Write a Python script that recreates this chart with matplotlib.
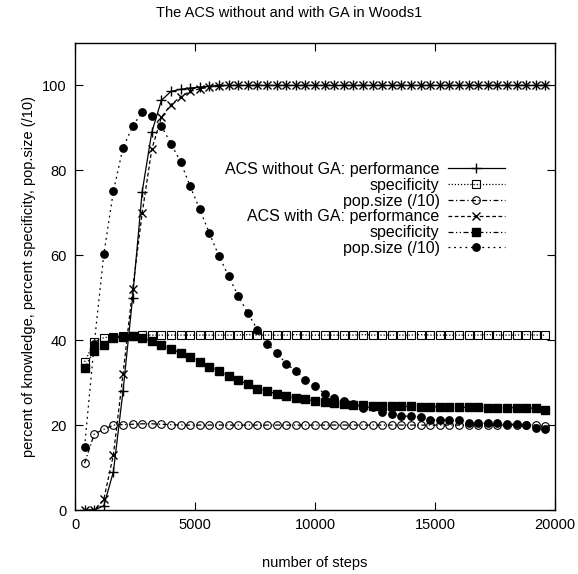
import numpy as np
import matplotlib
matplotlib.use("Agg")
import matplotlib.pyplot as plt

plt.rcParams['font.family'] = ['Liberation Sans', 'DejaVu Sans']

# steps at which the runs were sampled
steps = np.arange(400, 20000, 400)

# ACS without GA
perf_noga = [0, 0, 1, 9, 28, 50, 75, 89, 96.5, 98.6, 99.1, 99.4, 99.6, 99.8] + [100] * 35
spec_noga = [34.9, 39.6, 40.6, 40.8, 41.0, 41.1, 41.2, 41.2, 41.2, 41.2,
             41.2, 41.2, 41.2, 41.2, 41.2, 41.2, 41.2, 41.3, 41.2, 41.2,
             41.2, 41.2, 41.3, 41.2, 41.2, 41.2, 41.2, 41.2, 41.2, 41.3,
             41.2, 41.2, 41.2, 41.2, 41.2, 41.3, 41.2, 41.2, 41.2, 41.2,
             41.2, 41.2, 41.3, 41.2, 41.2, 41.2, 41.3, 41.2, 41.2]
pop_noga = [11.0, 17.9, 19.0, 20.0, 20.1, 20.2, 20.3, 20.3, 20.2, 20.1,
            20.0, 20.0, 20.0, 20.0, 20.0, 20.0, 20.0, 20.0, 20.0, 20.0,
            20.0, 20.0, 20.0, 20.0, 20.0, 20.0, 20.0, 20.0, 20.0, 20.0,
            20.0, 20.0, 20.0, 20.0, 20.0, 20.0, 20.0, 20.0, 20.0, 20.0,
            20.0, 20.0, 20.0, 20.0, 20.0, 20.0, 20.0, 20.0, 19.8]

# ACS with GA
perf_ga = [0, 0, 2.5, 13, 32, 52, 70, 85, 92.5, 95.5, 97.3, 98.6, 99.2, 99.6, 99.8] + [100] * 34
spec_ga = [33.5, 37.5, 38.8, 40.4, 40.8, 40.9, 40.4, 39.8, 38.8, 38.0,
           37.0, 36.1, 34.9, 33.7, 32.8, 31.6, 30.6, 29.6, 28.6, 28.1,
           27.3, 26.8, 26.4, 26.1, 25.7, 25.5, 25.3, 25.0, 24.8, 24.7,
           24.6, 24.5, 24.5, 24.4, 24.4, 24.3, 24.3, 24.3, 24.3, 24.2,
           24.2, 24.2, 24.1, 24.1, 24.1, 24.1, 24.0, 24.0, 23.6]
pop_ga = [14.9, 39.1, 60.2, 75.1, 85.3, 90.4, 93.7, 92.7, 90.4, 86.3,
          82.0, 76.2, 70.8, 65.2, 59.8, 55.1, 50.4, 46.4, 42.5, 39.2,
          37.0, 34.5, 32.7, 30.7, 29.2, 27.4, 26.3, 25.6, 24.9, 24.1,
          24.3, 23.1, 22.6, 22.1, 22.1, 21.8, 21.2, 21.2, 21.2, 21.2,
          20.5, 20.4, 20.4, 20.4, 20.2, 20.2, 20.0, 19.2, 19.0]

labels = ["ACS without GA: performance", "specificity", "pop.size (/10)",
          "ACS with GA: performance", "specificity", "pop.size (/10)"]

fig = plt.figure(figsize=(5.78, 5.74), dpi=100)
ax = fig.add_axes([75 / 578, 1 - 510 / 574, 480 / 578, 467 / 574])

lw = 0.9
ax.plot(steps, perf_noga, color='black', lw=lw, ls='-', marker='+', ms=7, mew=1.0, label=labels[0])
ax.plot(steps, spec_noga, color='black', lw=lw, ls=(0, (1, 1.5)), marker='s', ms=5.5, mfc='none', mew=0.8, label=labels[1])
ax.plot(steps, pop_noga, color='black', lw=lw, ls=(0, (4, 2, 1, 2)), marker='o', ms=5.5, mfc='none', mew=0.8, label=labels[2])
ax.plot(steps, perf_ga, color='black', lw=lw, ls=(0, (3, 2)), marker='x', ms=6, mew=1.0, label=labels[3])
ax.plot(steps, spec_ga, color='black', lw=lw, ls=(0, (4, 2, 1, 2, 1, 2)), marker='s', ms=5.8, label=labels[4])
ax.plot(steps, pop_ga, color='black', lw=lw, ls=(0, (1.5, 3)), marker='o', ms=5.3, label=labels[5])

ax.set_xlim(0, 20000)
ax.set_ylim(0, 110)
ax.set_xticks([0, 5000, 10000, 15000, 20000])
ax.set_yticks([0, 20, 40, 60, 80, 100])
ax.tick_params(direction='in', top=True, right=True, length=6, labelsize=10.5, pad=6)
for s in ax.spines.values():
    s.set_linewidth(1.0)

ax.set_xlabel("number of steps", fontsize=10.5, labelpad=17)
ax.set_ylabel("percent of knowledge, percent specificity, pop.size (/10)", fontsize=10.5, labelpad=4)
fig.text(0.5, 1 - 13 / 574, "The ACS without and with GA in Woods1",
         ha='center', va='center', fontsize=10.5)

leg = ax.legend(loc='upper right', bbox_to_anchor=((505 - 75) / 480, (510 - 162) / 467),
                frameon=False, markerfirst=False, fontsize=11.5, handlelength=3.6,
                handletextpad=0.5, labelspacing=0.05, borderpad=0, borderaxespad=0)

fig.savefig("out.png", dpi=100)
